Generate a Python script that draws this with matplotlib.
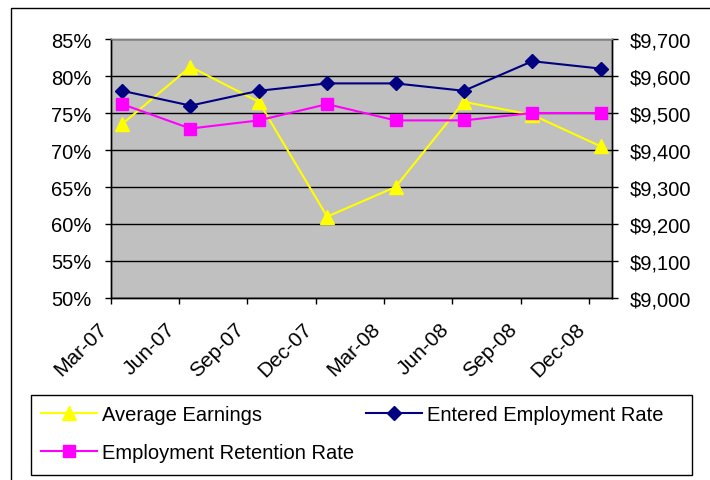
import numpy as np
import matplotlib
matplotlib.use("Agg")
import matplotlib.pyplot as plt
from matplotlib.patches import Rectangle
from matplotlib.ticker import FuncFormatter

plt.rcParams['font.family'] = ['Liberation Sans', 'DejaVu Sans']
plt.rcParams['font.size'] = 14.5

# data
quarters = ['Mar-07', 'Jun-07', 'Sep-07', 'Dec-07', 'Mar-08', 'Jun-08', 'Sep-08', 'Dec-08']
avg_earnings = [9470, 9625, 9530, 9220, 9300, 9530, 9495, 9410]
entered_rate = [0.78, 0.76, 0.78, 0.79, 0.79, 0.78, 0.82, 0.81]
retention_rate = [0.762, 0.729, 0.74, 0.762, 0.74, 0.74, 0.75, 0.75]

# date axis in months, quarterly ticks, points sit half a month after the tick
tick_x = np.arange(len(quarters)) * 3
pt_x = tick_x + 0.5

W, H = 710, 481
fig = plt.figure(figsize=(W / 100, H / 100), dpi=100)
L, R, T, B = 110.7, 612, 40, 299
ax2 = fig.add_axes([L / W, 1 - B / H, (R - L) / W, (B - T) / H])
ax = ax2.twinx()
ax.yaxis.tick_left()
ax.yaxis.set_label_position('left')
ax2.yaxis.tick_right()

# background axes: grey area, grid and the secondary series
ax2.set_facecolor('#C0C0C0')
ax2.set_xlim(0, 22)
ax2.set_ylim(9000, 9700)
ax2.set_yticks(np.arange(9000, 9701, 100))
ax2.yaxis.set_major_formatter(FuncFormatter(lambda v, p: '${:,.0f}'.format(v)))
ax2.yaxis.grid(True, color='black', lw=1)
ax2.set_axisbelow(True)
ln_ae, = ax2.plot(pt_x, avg_earnings, color='#FFFF00', lw=1.5, marker='^',
                  ms=9.5, mfc='#FFFF00', mec='#FFFF00', label='Average Earnings')
ax2.tick_params(axis='y', which='both', right=True, left=False, direction='out',
                length=4.5, width=1, pad=8.5, labelright=True, labelleft=False)
ax2.set_xticks(tick_x)
ax2.set_xticklabels(quarters, rotation=45, ha='right', fontsize=15)
ax2.tick_params(axis='x', direction='out', length=4.5, width=1, pad=10.5)

# front axes: rates
ax.set_zorder(ax2.get_zorder() + 1)
ax.patch.set_visible(False)
ax.set_ylim(0.5, 0.85)
ax.set_yticks(np.arange(0.5, 0.851, 0.05))
ax.yaxis.set_major_formatter(FuncFormatter(lambda v, p: '{:.0f}%'.format(v * 100)))
ax.tick_params(axis='y', direction='out', length=4.5, width=1, pad=9.5,
               left=True, right=False, labelleft=True, labelright=False)
ln_ee, = ax.plot(pt_x, entered_rate, color='#000080', lw=1.5, marker='D',
                 ms=7.5, mfc='#000080', mec='#000080', label='Entered Employment Rate')
ln_er, = ax.plot(pt_x, retention_rate, color='#FF00FF', lw=1.5, marker='s',
                 ms=8.5, mfc='#FF00FF', mec='#FF00FF', label='Employment Retention Rate')

for a in (ax, ax2):
    for s in ('left', 'right', 'bottom'):
        a.spines[s].set_color('black')
        a.spines[s].set_linewidth(1)
    a.spines['top'].set_color('#808080')
    a.spines['top'].set_linewidth(1)

# legend box drawn separately so it can span the full width
fig.patches.append(Rectangle((30.5 / W, 1 - 475.5 / H), 662 / W, 80 / H,
                             transform=fig.transFigure, fill=False,
                             edgecolor='black', lw=1))
leg = fig.legend([ln_ae, ln_er, ln_ee],
                 ['Average Earnings', 'Employment Retention Rate', 'Entered Employment Rate'],
                 ncol=2, loc='upper left',
                 bbox_to_anchor=(30 / W, 1 - 395 / H),
                 borderaxespad=0, frameon=False,
                 handlelength=2.8, handletextpad=0.25,
                 labelspacing=0.95, borderpad=0.55, columnspacing=0.55,
                 fontsize=14.5)

# outer chart border (runs off the right and bottom)
fig.patches.append(Rectangle((10.5 / W, -0.1), 2, 1.1 - 8.5 / H,
                             transform=fig.transFigure, fill=False,
                             edgecolor='black', lw=1))

fig.savefig('out.png', dpi=100)
